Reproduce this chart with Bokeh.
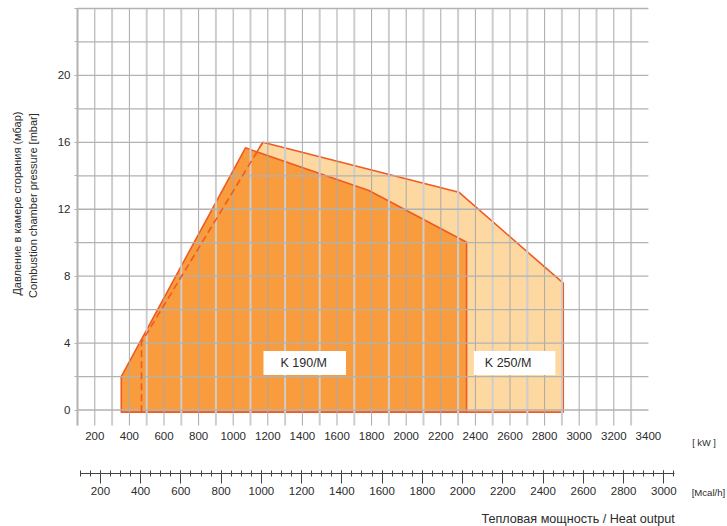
import math
from bokeh.plotting import figure
from bokeh.models import Range1d, LinearAxis, FixedTicker, Label
from bokeh.embed import file_html
from bokeh.resources import INLINE

# ---- data (kW, mbar) ----
k190_kw = [353, 353, 1071, 1784, 2349, 2349]
k190_mbar = [-0.13, 2.0, 15.67, 13.12, 10.03, -0.13]
k250_kw = [470, 470, 1171, 2304, 2908, 2908]
k250_mbar = [-0.13, 4.05, 16.0, 13.02, 7.58, -0.13]

kw_ticks = list(range(200, 3401, 200))
mcal_ticks = list(range(200, 3001, 200))
mcal_minor = list(range(100, 3051, 50))
y_ticks = [0, 4, 8, 12, 16, 20]
y_minor = [2, 6, 10, 14, 18, 22, 24]
y_grid_levels = list(range(0, 25, 2))
grid_kw_even = list(range(200, 3201, 200))
grid_kw_odd = list(range(100, 3301, 200))

# ---- axis extents ----
KW_MIN, KW_GRID_END = 100, 3400
Y_MIN, Y_MAX = -0.93, 24
KW_PER_MCAL = 1.163
MCAL_BOUNDS = (100, 3055)
MCAL_AXIS_Y = -3.8

W, H = 727, 526
PX_PER_KW = 0.173
PX_PER_MBAR = 16.729
X0_PX, Y0_PX = 77, 409.5          # pixel of (100 kW, 0 mbar)
x_start = KW_MIN - X0_PX / PX_PER_KW
x_end = KW_MIN + (W - X0_PX) / PX_PER_KW
y_end = Y0_PX / PX_PER_MBAR
y_start = (Y0_PX - H) / PX_PER_MBAR

FONT = "Liberation Sans"
TXT = "#2b2b2b"
GRID_D = "#a9a9a9"
GRID_L = "#cdcdcd"
EDGE = "#f05a22"

p = figure(width=W, height=H,
           x_range=Range1d(x_start, x_end), y_range=Range1d(y_start, y_end),
           output_backend="svg", toolbar_location=None,
           min_border=0, min_border_left=0, min_border_right=0,
           min_border_top=0, min_border_bottom=0)
p.outline_line_color = None
p.background_fill_color = "white"
p.border_fill_color = "white"
p.xgrid.visible = False
p.ygrid.visible = False

# polygons
p.patch(k250_kw, k250_mbar, fill_color="#fdd8a0", line_color=EDGE, line_width=1.6)
p.patch(k190_kw, k190_mbar, fill_color="#f89c3e", line_color=EDGE, line_width=1.6)

# grid
n = len(grid_kw_odd)
p.segment(x0=grid_kw_odd, x1=grid_kw_odd, y0=[Y_MIN] * n, y1=[Y_MAX] * n,
          line_color=GRID_L, line_width=2)
n = len(grid_kw_even)
p.segment(x0=grid_kw_even, x1=grid_kw_even, y0=[Y_MIN] * n, y1=[Y_MAX] * n,
          line_color=GRID_D, line_width=1)
n = len(y_grid_levels)
p.segment(x0=[KW_MIN] * n, x1=[KW_GRID_END] * n, y0=y_grid_levels,
          y1=y_grid_levels, line_color="#b2b2b2", line_width=1.3)

# dashed left boundary of K 250/M
p.line(k250_kw[:3], k250_mbar[:3], line_color=EDGE, line_width=1.6,
       line_dash="7 4")

# kW axis
xa = p.xaxis[0]
xa.fixed_location = Y_MIN
xa.ticker = FixedTicker(ticks=kw_ticks)
xa.axis_line_color = None
xa.major_tick_line_color = None
xa.minor_tick_line_color = None
xa.major_tick_in = 0
xa.major_tick_out = 0
xa.major_label_standoff = 6
xa.major_label_text_font = FONT
xa.major_label_text_font_size = "11.5px"
xa.major_label_text_color = TXT

# Mcal/h axis
p.extra_x_ranges = {"mcal": Range1d(x_start / KW_PER_MCAL, x_end / KW_PER_MCAL)}
ma = LinearAxis(x_range_name="mcal",
                ticker=FixedTicker(ticks=mcal_ticks, minor_ticks=mcal_minor),
                bounds=MCAL_BOUNDS, fixed_location=MCAL_AXIS_Y)
ma.axis_line_color = "#444444"
ma.major_tick_line_color = "#444444"
ma.minor_tick_line_color = "#444444"
ma.major_tick_in = 3
ma.major_tick_out = 10
ma.minor_tick_in = 3
ma.minor_tick_out = 3
ma.major_label_standoff = 3
ma.major_label_text_font = FONT
ma.major_label_text_font_size = "11.5px"
ma.major_label_text_color = TXT
p.add_layout(ma, "below")

# y axis
ya = p.yaxis[0]
ya.fixed_location = KW_MIN
ya.bounds = (Y_MIN, Y_MAX)
ya.ticker = FixedTicker(ticks=y_ticks, minor_ticks=y_minor)
ya.axis_line_color = "#b2b2b2"
ya.axis_line_width = 1.5
ya.major_tick_line_color = "#b2b2b2"
ya.minor_tick_line_color = "#b2b2b2"
ya.major_tick_in = 0
ya.major_tick_out = 3
ya.minor_tick_in = 0
ya.minor_tick_out = 3
ya.major_label_standoff = 4
ya.major_label_text_font = FONT
ya.major_label_text_font_size = "11.5px"
ya.major_label_text_color = TXT

def txt(text, x, y, size, align="left", angle=0.0, **kw):
    p.add_layout(Label(x=x, y=y, text=text, text_align=align,
                       text_baseline="middle", text_font=FONT,
                       text_font_size=size, text_color=TXT, angle=angle, **kw))

# y-axis title (two lines)
txt("Давление в камере сгорания (мбар)", -247, 12.34, "11px", "center", math.pi / 2)
txt("Combustion chamber pressure [mbar]", -160, 12.22, "11px", "center", math.pi / 2)

# series labels (anchor = left edge of the white box)
txt("K 190/M", 1175, 2.81, "12.5px", background_fill_color="white",
    padding=dict(left=17, right=19, top=5, bottom=5))
txt("K 250/M", 2391, 2.81, "12.5px", background_fill_color="white",
    padding=dict(left=11, right=24, top=5, bottom=5))

# units and x title
txt("[ kW ]", 3653, -2.0, "9.3px")
txt("[Mcal/h]", 3650, -4.91, "9.6px")
txt("Тепловая мощность / Heat output", 3553, -6.49, "12.6px", "right")

open("out.html", "w").write(file_html(p, INLINE))
